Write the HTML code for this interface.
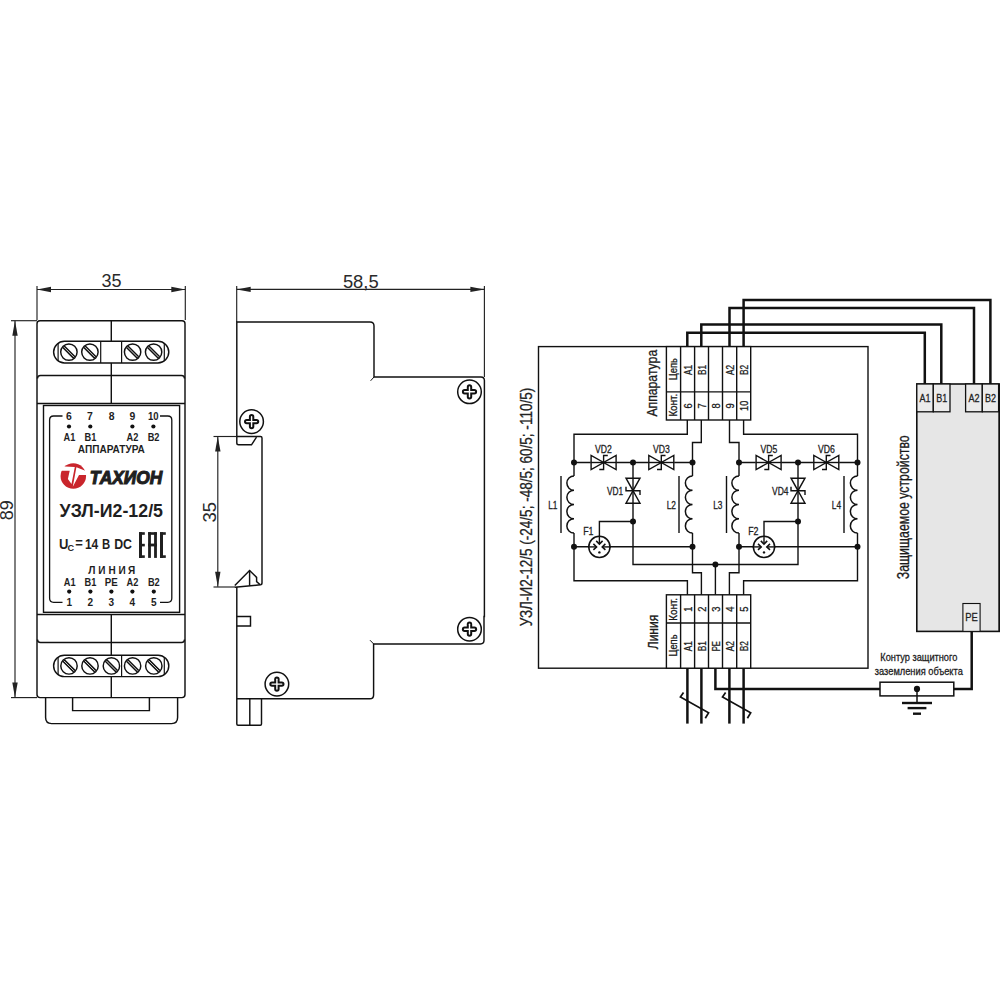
<!DOCTYPE html>
<html><head><meta charset="utf-8"><style>
html,body{margin:0;padding:0;background:#fff;}
svg{display:block;font-family:"Liberation Sans",sans-serif;}
</style></head><body>
<svg width="1000" height="1000" viewBox="0 0 1000 1000">
<rect width="1000" height="1000" fill="#fff"/>
<line x1="37" y1="286" x2="37" y2="320" stroke="#222" stroke-width="1.15" />
<line x1="185.3" y1="286" x2="185.3" y2="320" stroke="#222" stroke-width="1.15" />
<line x1="37" y1="289.5" x2="185.3" y2="289.5" stroke="#222" stroke-width="1.15" />
<polygon points="37,289.5 51.0,286.8 51.0,292.2" fill="#222"/>
<polygon points="185.3,289.5 171.3,292.2 171.3,286.8" fill="#222"/>
<text x="111.5" y="287.3" font-size="18" text-anchor="middle" font-weight="normal" font-style="normal" fill="#2a2a2a" >35</text>
<line x1="11" y1="320.7" x2="37" y2="320.7" stroke="#222" stroke-width="1.15" />
<line x1="11" y1="697.6" x2="37" y2="697.6" stroke="#222" stroke-width="1.15" />
<line x1="15" y1="320.7" x2="15" y2="697.6" stroke="#222" stroke-width="1.15" />
<polygon points="15,320.7 17.7,335.7 12.3,335.7" fill="#222"/>
<polygon points="15,697.6 12.3,682.6 17.7,682.6" fill="#222"/>
<text x="13" y="510.2" font-size="18" text-anchor="middle" font-weight="normal" font-style="normal" fill="#2a2a2a" transform="rotate(-90 13 510.2)" >89</text>
<path d="M37,323.7 Q37,320.7 40,320.7 L182,320.7 Q185,320.7 185,323.7 L185,694.6 Q185,697.6 182,697.6 L40,697.6 Q37,697.6 37,694.6 Z" stroke="#111" stroke-width="1.45" fill="none" />
<path d="M37.5,378.5 Q37.5,375.5 40.5,375.5 L181.5,375.5 Q184.5,375.5 184.5,378.5" stroke="#111" stroke-width="1.45" fill="none" />
<line x1="37" y1="403.5" x2="185" y2="403.5" stroke="#111" stroke-width="1.45" />
<line x1="37" y1="614.4" x2="185" y2="614.4" stroke="#111" stroke-width="1.45" />
<path d="M37.5,639.4 Q37.5,642.4 40.5,642.4 L181.5,642.4 Q184.5,642.4 184.5,639.4" stroke="#111" stroke-width="1.45" fill="none" />
<rect x="43.5" y="405.5" width="136.1" height="206.8" fill="none" stroke="#111" stroke-width="1.4"/>
<line x1="111.3" y1="320.7" x2="111.3" y2="341.3" stroke="#111" stroke-width="1.45" />
<line x1="111.3" y1="362.9" x2="111.3" y2="403.5" stroke="#111" stroke-width="1.45" />
<line x1="111.3" y1="614.4" x2="111.3" y2="655.2" stroke="#111" stroke-width="1.45" />
<line x1="111.3" y1="676.6" x2="111.3" y2="697.6" stroke="#111" stroke-width="1.45" />
<path d="M64.4,341.3 L158.0,341.3 A10.8,10.8 0 0 1 158.0,362.90000000000003 L64.4,362.90000000000003 A10.8,10.8 0 0 1 64.4,341.3 Z" stroke="#111" stroke-width="1.45" fill="none" />
<circle cx="68.9" cy="352.1" r="8.2" stroke="#111" stroke-width="1.45" fill="none"/>
<line x1="63.52680000000001" y1="346.7268" x2="74.2732" y2="357.4732" stroke="#111" stroke-width="3.5" />
<line x1="63.95100000000001" y1="347.151" x2="73.849" y2="357.04900000000004" stroke="#fff" stroke-width="0.85" />
<circle cx="89.9" cy="352.1" r="8.2" stroke="#111" stroke-width="1.45" fill="none"/>
<line x1="84.52680000000001" y1="346.7268" x2="95.2732" y2="357.4732" stroke="#111" stroke-width="3.5" />
<line x1="84.95100000000001" y1="347.151" x2="94.849" y2="357.04900000000004" stroke="#fff" stroke-width="0.85" />
<circle cx="132.6" cy="352.1" r="8.2" stroke="#111" stroke-width="1.45" fill="none"/>
<line x1="127.2268" y1="346.7268" x2="137.9732" y2="357.4732" stroke="#111" stroke-width="3.5" />
<line x1="127.651" y1="347.151" x2="137.549" y2="357.04900000000004" stroke="#fff" stroke-width="0.85" />
<circle cx="153.6" cy="352.1" r="8.2" stroke="#111" stroke-width="1.45" fill="none"/>
<line x1="148.2268" y1="346.7268" x2="158.9732" y2="357.4732" stroke="#111" stroke-width="3.5" />
<line x1="148.65099999999998" y1="347.151" x2="158.549" y2="357.04900000000004" stroke="#fff" stroke-width="0.85" />
<line x1="58.1" y1="343.32788508967195" x2="58.1" y2="360.8721149103281" stroke="#111" stroke-width="1.2" />
<line x1="100.7" y1="341.3" x2="100.7" y2="362.90000000000003" stroke="#111" stroke-width="1.2" />
<line x1="121.6" y1="341.3" x2="121.6" y2="362.90000000000003" stroke="#111" stroke-width="1.2" />
<line x1="164.3" y1="343.32788508967195" x2="164.3" y2="360.8721149103281" stroke="#111" stroke-width="1.2" />
<path d="M64.3,655.2 L158.10000000000002,655.2 A10.7,10.7 0 0 1 158.10000000000002,676.6 L64.3,676.6 A10.7,10.7 0 0 1 64.3,655.2 Z" stroke="#111" stroke-width="1.45" fill="none" />
<circle cx="69.0" cy="665.9000000000001" r="8.2" stroke="#111" stroke-width="1.45" fill="none"/>
<line x1="63.6268" y1="660.5268000000001" x2="74.3732" y2="671.2732000000001" stroke="#111" stroke-width="3.5" />
<line x1="64.051" y1="660.9510000000001" x2="73.949" y2="670.849" stroke="#fff" stroke-width="0.85" />
<circle cx="90.0" cy="665.9000000000001" r="8.2" stroke="#111" stroke-width="1.45" fill="none"/>
<line x1="84.6268" y1="660.5268000000001" x2="95.3732" y2="671.2732000000001" stroke="#111" stroke-width="3.5" />
<line x1="85.051" y1="660.9510000000001" x2="94.949" y2="670.849" stroke="#fff" stroke-width="0.85" />
<circle cx="111.4" cy="665.9000000000001" r="8.2" stroke="#111" stroke-width="1.45" fill="none"/>
<line x1="106.02680000000001" y1="660.5268000000001" x2="116.7732" y2="671.2732000000001" stroke="#111" stroke-width="3.5" />
<line x1="106.45100000000001" y1="660.9510000000001" x2="116.349" y2="670.849" stroke="#fff" stroke-width="0.85" />
<circle cx="132.6" cy="665.9000000000001" r="8.2" stroke="#111" stroke-width="1.45" fill="none"/>
<line x1="127.2268" y1="660.5268000000001" x2="137.9732" y2="671.2732000000001" stroke="#111" stroke-width="3.5" />
<line x1="127.651" y1="660.9510000000001" x2="137.549" y2="670.849" stroke="#fff" stroke-width="0.85" />
<circle cx="153.8" cy="665.9000000000001" r="8.2" stroke="#111" stroke-width="1.45" fill="none"/>
<line x1="148.42680000000001" y1="660.5268000000001" x2="159.1732" y2="671.2732000000001" stroke="#111" stroke-width="3.5" />
<line x1="148.851" y1="660.9510000000001" x2="158.74900000000002" y2="670.849" stroke="#fff" stroke-width="0.85" />
<line x1="58.1" y1="657.1793348877509" x2="58.1" y2="674.6206651122493" stroke="#111" stroke-width="1.2" />
<line x1="121.6" y1="655.2" x2="121.6" y2="676.6" stroke="#111" stroke-width="1.2" />
<line x1="164.3" y1="657.1793348877509" x2="164.3" y2="674.6206651122493" stroke="#111" stroke-width="1.2" />
<path d="M45.6,697.6 L45.6,717.6 Q45.6,723.6 51.6,723.6 L171.6,723.6 Q177.6,723.6 177.6,717.6 L177.6,697.6" stroke="#111" stroke-width="1.45" fill="none" />
<path d="M72.6,697.6 L72.6,710.6 L149.4,710.6 L149.4,697.6" stroke="#111" stroke-width="1.45" fill="none" />
<path d="M62.5,416 L53.6,416 Q49.6,416 49.6,420 L49.6,598.3 Q49.6,602.3 53.6,602.3 L62.5,602.3" stroke="#111" stroke-width="1.3" fill="none" />
<path d="M160,416 L167.8,416 Q171.8,416 171.8,420 L171.8,598.3 Q171.8,602.3 167.8,602.3 L160,602.3" stroke="#111" stroke-width="1.3" fill="none" />
<text x="68.9" y="420.3" font-size="11.4" text-anchor="middle" font-weight="bold" font-style="normal" fill="#1e1e1e" textLength="5.8" lengthAdjust="spacingAndGlyphs" >6</text>
<text x="90" y="420.3" font-size="11.4" text-anchor="middle" font-weight="bold" font-style="normal" fill="#1e1e1e" textLength="5.8" lengthAdjust="spacingAndGlyphs" >7</text>
<text x="111.6" y="420.3" font-size="11.4" text-anchor="middle" font-weight="bold" font-style="normal" fill="#1e1e1e" textLength="5.8" lengthAdjust="spacingAndGlyphs" >8</text>
<text x="132.4" y="420.3" font-size="11.4" text-anchor="middle" font-weight="bold" font-style="normal" fill="#1e1e1e" textLength="5.8" lengthAdjust="spacingAndGlyphs" >9</text>
<text x="153.2" y="420.3" font-size="11.4" text-anchor="middle" font-weight="bold" font-style="normal" fill="#1e1e1e" textLength="10.6" lengthAdjust="spacingAndGlyphs" >10</text>
<circle cx="69" cy="426.5" r="2.1" fill="#111"/>
<circle cx="90.3" cy="426.5" r="2.1" fill="#111"/>
<circle cx="132.4" cy="426.5" r="2.1" fill="#111"/>
<circle cx="153.4" cy="426.5" r="2.1" fill="#111"/>
<text x="69.5" y="441" font-size="11.6" text-anchor="middle" font-weight="bold" font-style="normal" fill="#1e1e1e" textLength="11.8" lengthAdjust="spacingAndGlyphs" >A1</text>
<text x="90.5" y="441" font-size="11.6" text-anchor="middle" font-weight="bold" font-style="normal" fill="#1e1e1e" textLength="11.8" lengthAdjust="spacingAndGlyphs" >B1</text>
<text x="132.4" y="441" font-size="11.6" text-anchor="middle" font-weight="bold" font-style="normal" fill="#1e1e1e" textLength="11.8" lengthAdjust="spacingAndGlyphs" >A2</text>
<text x="153.6" y="441" font-size="11.6" text-anchor="middle" font-weight="bold" font-style="normal" fill="#1e1e1e" textLength="11.8" lengthAdjust="spacingAndGlyphs" >B2</text>
<text x="111.3" y="452.8" font-size="10" text-anchor="middle" font-weight="bold" font-style="normal" fill="#1e1e1e" textLength="67" lengthAdjust="spacingAndGlyphs" >АППАРАТУРА</text>
<circle cx="73.3" cy="476" r="12.75" fill="#c9252c"/>
<polygon points="61,466.55 64.9,466.55 74.8,467 71.5,484.1 67.9,479 69.7,470.75 59.8,470.75" fill="#fff"/>
<polygon points="76.4,467.3 84.7,470.6 87.5,470.6 87.5,475.1 79,475.1 72.8,486.8" fill="#fff"/>
<text x="89.8" y="483.7" font-size="18.2" text-anchor="start" font-weight="bold" font-style="italic" fill="#1f1f1f" textLength="72.5" lengthAdjust="spacingAndGlyphs" stroke="#1f1f1f" stroke-width="1.1">ТАХИОН</text>
<text x="111.3" y="516.8" font-size="18.6" text-anchor="middle" font-weight="bold" font-style="normal" fill="#1f1f1f" textLength="103.4" lengthAdjust="spacingAndGlyphs" >УЗЛ-И2-12/5</text>
<text x="58.9" y="548.5" font-size="14.2" text-anchor="start" font-weight="bold" font-style="normal" fill="#1f1f1f" textLength="9.4" lengthAdjust="spacingAndGlyphs" >U</text>
<text x="67.4" y="550.8" font-size="8.8" text-anchor="start" font-weight="bold" font-style="normal" fill="#1f1f1f" textLength="6.6" lengthAdjust="spacingAndGlyphs" >C</text>
<text x="75.2" y="547.6" font-size="14.2" text-anchor="start" font-weight="bold" font-style="normal" fill="#1f1f1f" textLength="7.6" lengthAdjust="spacingAndGlyphs" >=</text>
<text x="84.9" y="548.5" font-size="14.2" text-anchor="start" font-weight="bold" font-style="normal" fill="#1f1f1f" textLength="13.4" lengthAdjust="spacingAndGlyphs" >14</text>
<text x="101.9" y="548.5" font-size="14.2" text-anchor="start" font-weight="bold" font-style="normal" fill="#1f1f1f" textLength="8.2" lengthAdjust="spacingAndGlyphs" >B</text>
<text x="114.2" y="548.5" font-size="14.2" text-anchor="start" font-weight="bold" font-style="normal" fill="#1f1f1f" textLength="17.8" lengthAdjust="spacingAndGlyphs" >DC</text>
<rect x="139" y="532.2" width="3" height="25.7" fill="#1f1f1f"/>
<rect x="139" y="532.2" width="5.8" height="2.6" fill="#1f1f1f"/>
<rect x="139" y="543.8" width="5.8" height="2.6" fill="#1f1f1f"/>
<rect x="139" y="555.3" width="5.8" height="2.6" fill="#1f1f1f"/>
<rect x="148.1" y="532.2" width="2.8" height="25.7" fill="#1f1f1f"/>
<rect x="154.1" y="532.2" width="2.8" height="25.7" fill="#1f1f1f"/>
<rect x="148.1" y="532.2" width="8.8" height="2.6" fill="#1f1f1f"/>
<rect x="148.1" y="543.6" width="8.8" height="2.8" fill="#1f1f1f"/>
<rect x="160" y="532.2" width="3" height="25.7" fill="#1f1f1f"/>
<rect x="160" y="532.2" width="5.8" height="2.6" fill="#1f1f1f"/>
<rect x="160" y="555.3" width="5.8" height="2.6" fill="#1f1f1f"/>
<text x="91.8" y="573.7" font-size="11.7" text-anchor="middle" font-weight="bold" font-style="normal" fill="#1e1e1e" textLength="7.2" lengthAdjust="spacingAndGlyphs" >Л</text>
<text x="101.8" y="573.7" font-size="11.7" text-anchor="middle" font-weight="bold" font-style="normal" fill="#1e1e1e" textLength="7.2" lengthAdjust="spacingAndGlyphs" >И</text>
<text x="112.2" y="573.7" font-size="11.7" text-anchor="middle" font-weight="bold" font-style="normal" fill="#1e1e1e" textLength="7.2" lengthAdjust="spacingAndGlyphs" >Н</text>
<text x="122" y="573.7" font-size="11.7" text-anchor="middle" font-weight="bold" font-style="normal" fill="#1e1e1e" textLength="7.2" lengthAdjust="spacingAndGlyphs" >И</text>
<text x="131.5" y="573.7" font-size="11.7" text-anchor="middle" font-weight="bold" font-style="normal" fill="#1e1e1e" textLength="7.2" lengthAdjust="spacingAndGlyphs" >Я</text>
<text x="69.7" y="586" font-size="10" text-anchor="middle" font-weight="bold" font-style="normal" fill="#1e1e1e" textLength="11.8" lengthAdjust="spacingAndGlyphs" >A1</text>
<text x="90.5" y="586" font-size="10" text-anchor="middle" font-weight="bold" font-style="normal" fill="#1e1e1e" textLength="11.8" lengthAdjust="spacingAndGlyphs" >B1</text>
<text x="111.3" y="586" font-size="10" text-anchor="middle" font-weight="bold" font-style="normal" fill="#1e1e1e" textLength="13" lengthAdjust="spacingAndGlyphs" >PE</text>
<text x="132.4" y="586" font-size="10" text-anchor="middle" font-weight="bold" font-style="normal" fill="#1e1e1e" textLength="11.8" lengthAdjust="spacingAndGlyphs" >A2</text>
<text x="153.8" y="586" font-size="10" text-anchor="middle" font-weight="bold" font-style="normal" fill="#1e1e1e" textLength="11.8" lengthAdjust="spacingAndGlyphs" >B2</text>
<circle cx="69.2" cy="591.6" r="2.1" fill="#111"/>
<circle cx="90.4" cy="591.6" r="2.1" fill="#111"/>
<circle cx="111.4" cy="591.6" r="2.1" fill="#111"/>
<circle cx="132.4" cy="591.6" r="2.1" fill="#111"/>
<circle cx="153.8" cy="591.6" r="2.1" fill="#111"/>
<text x="69.2" y="606.3" font-size="10.3" text-anchor="middle" font-weight="bold" font-style="normal" fill="#1e1e1e" textLength="5.6" lengthAdjust="spacingAndGlyphs" >1</text>
<text x="90.4" y="606.3" font-size="10.3" text-anchor="middle" font-weight="bold" font-style="normal" fill="#1e1e1e" textLength="5.6" lengthAdjust="spacingAndGlyphs" >2</text>
<text x="111.4" y="606.3" font-size="10.3" text-anchor="middle" font-weight="bold" font-style="normal" fill="#1e1e1e" textLength="5.6" lengthAdjust="spacingAndGlyphs" >3</text>
<text x="132.4" y="606.3" font-size="10.3" text-anchor="middle" font-weight="bold" font-style="normal" fill="#1e1e1e" textLength="5.6" lengthAdjust="spacingAndGlyphs" >4</text>
<text x="153.8" y="606.3" font-size="10.3" text-anchor="middle" font-weight="bold" font-style="normal" fill="#1e1e1e" textLength="5.6" lengthAdjust="spacingAndGlyphs" >5</text>
<line x1="236.7" y1="286" x2="236.7" y2="322" stroke="#222" stroke-width="1.15" />
<line x1="484.4" y1="286" x2="484.4" y2="377" stroke="#222" stroke-width="1.15" />
<line x1="236.7" y1="289.4" x2="484.4" y2="289.4" stroke="#222" stroke-width="1.15" />
<polygon points="236.7,289.4 250.7,286.7 250.7,292.09999999999997" fill="#222"/>
<polygon points="484.4,289.4 470.4,292.09999999999997 470.4,286.7" fill="#222"/>
<text x="360.8" y="287.6" font-size="18.4" text-anchor="middle" font-weight="normal" font-style="normal" fill="#2a2a2a" >58,5</text>
<path d="M236.8,436.5 L236.8,322 L370,322 Q374,322 374,326 L374,377 L480.9,377 Q484.4,377 484.4,380.5 L484.4,616.4 L484,616.4 L484,640.3 Q484,643.9 480.4,643.9 L373.6,643.9 L373.6,695 Q373.6,698.8 369.8,698.8 L236.8,698.8 L236.8,587" stroke="#111" stroke-width="1.45" fill="none" />
<path d="M374,377 L370.6,380.8" stroke="#111" stroke-width="1.0" fill="none" />
<path d="M373.6,643.9 L370,640.2" stroke="#111" stroke-width="1.0" fill="none" />
<line x1="213.5" y1="436.5" x2="236.8" y2="436.5" stroke="#222" stroke-width="1.15" />
<path d="M236.8,436.5 L260.5,436.5 Q262,436.5 262,438 L262,583 Q262,584.8 260.2,584.8" stroke="#111" stroke-width="1.45" fill="none" />
<path d="M236.8,436.5 L236.8,443 Q236.8,444.8 238.6,444.8 L251.5,444.8 L256.5,437.2" stroke="#111" stroke-width="1.45" fill="none" />
<path d="M234.8,585.4 L249.6,570.6 L256.6,577.4 L256.6,581.6 L260.2,584.8" stroke="#111" stroke-width="1.45" fill="none" />
<line x1="249.6" y1="570.6" x2="249.6" y2="585.8" stroke="#111" stroke-width="1.45" />
<line x1="234.8" y1="587.2" x2="260.4" y2="584.8" stroke="#111" stroke-width="1.45" />
<line x1="213.5" y1="587" x2="235" y2="587" stroke="#222" stroke-width="1.15" />
<path d="M236.8,616.5 L250.5,616.5 L250.5,626 L236.8,626" stroke="#111" stroke-width="1.45" fill="none" />
<path d="M236.8,698.8 L236.8,724 Q236.8,725.2 238,725.2 L260.3,725.2 Q261.5,725.2 261.5,724 L261.5,698.8" stroke="#111" stroke-width="1.45" fill="none" />
<line x1="249.8" y1="698.8" x2="249.8" y2="725.2" stroke="#111" stroke-width="1.45" />
<line x1="217.8" y1="436.5" x2="217.8" y2="586.8" stroke="#222" stroke-width="1.15" />
<polygon points="217.8,436.5 220.5,451.5 215.10000000000002,451.5" fill="#222"/>
<polygon points="217.8,586.8 215.10000000000002,571.8 220.5,571.8" fill="#222"/>
<text x="216.4" y="512.2" font-size="18.6" text-anchor="middle" font-weight="normal" font-style="normal" fill="#2a2a2a" transform="rotate(-90 216.4 512.2)" >35</text>
<circle cx="469.5" cy="391.8" r="11.8" stroke="#111" stroke-width="1.5" fill="none"/>
<line x1="464.6" y1="391.8" x2="474.4" y2="391.8" stroke="#111" stroke-width="5.4" stroke-linecap="round"/>
<line x1="469.5" y1="386.90000000000003" x2="469.5" y2="396.7" stroke="#111" stroke-width="5.4" stroke-linecap="round"/>
<line x1="464.6" y1="391.8" x2="474.4" y2="391.8" stroke="#fff" stroke-width="1.4" stroke-linecap="round"/>
<line x1="469.5" y1="386.90000000000003" x2="469.5" y2="396.7" stroke="#fff" stroke-width="1.4" stroke-linecap="round"/>
<circle cx="251.6" cy="421.6" r="11.8" stroke="#111" stroke-width="1.5" fill="none"/>
<line x1="246.7" y1="421.6" x2="256.5" y2="421.6" stroke="#111" stroke-width="5.4" stroke-linecap="round"/>
<line x1="251.6" y1="416.70000000000005" x2="251.6" y2="426.5" stroke="#111" stroke-width="5.4" stroke-linecap="round"/>
<line x1="246.7" y1="421.6" x2="256.5" y2="421.6" stroke="#fff" stroke-width="1.4" stroke-linecap="round"/>
<line x1="251.6" y1="416.70000000000005" x2="251.6" y2="426.5" stroke="#fff" stroke-width="1.4" stroke-linecap="round"/>
<circle cx="469.5" cy="629.2" r="11.8" stroke="#111" stroke-width="1.5" fill="none"/>
<line x1="464.6" y1="629.2" x2="474.4" y2="629.2" stroke="#111" stroke-width="5.4" stroke-linecap="round"/>
<line x1="469.5" y1="624.3000000000001" x2="469.5" y2="634.1" stroke="#111" stroke-width="5.4" stroke-linecap="round"/>
<line x1="464.6" y1="629.2" x2="474.4" y2="629.2" stroke="#fff" stroke-width="1.4" stroke-linecap="round"/>
<line x1="469.5" y1="624.3000000000001" x2="469.5" y2="634.1" stroke="#fff" stroke-width="1.4" stroke-linecap="round"/>
<circle cx="276.9" cy="684.1" r="11.8" stroke="#111" stroke-width="1.5" fill="none"/>
<line x1="272.0" y1="684.1" x2="281.79999999999995" y2="684.1" stroke="#111" stroke-width="5.4" stroke-linecap="round"/>
<line x1="276.9" y1="679.2" x2="276.9" y2="689.0" stroke="#111" stroke-width="5.4" stroke-linecap="round"/>
<line x1="272.0" y1="684.1" x2="281.79999999999995" y2="684.1" stroke="#fff" stroke-width="1.4" stroke-linecap="round"/>
<line x1="276.9" y1="679.2" x2="276.9" y2="689.0" stroke="#fff" stroke-width="1.4" stroke-linecap="round"/>
<rect x="538.5" y="346.6" width="329.5" height="321.6" fill="none" stroke="#111" stroke-width="1.4"/>
<text x="531.6" y="507" font-size="17" text-anchor="middle" font-weight="normal" font-style="normal" fill="#222" textLength="238.5" lengthAdjust="spacingAndGlyphs" transform="rotate(-90 531.6 507)"  stroke="#222" stroke-width="0.3">УЗЛ-И2-12/5 (-24/5; -48/5; 60/5; -110/5)</text>
<rect x="666.4" y="346.6" width="84.3" height="73.39999999999998" fill="#fff" stroke="#111" stroke-width="1.4"/>
<line x1="680.6" y1="346.6" x2="680.6" y2="420" stroke="#111" stroke-width="1.4" />
<line x1="694.6" y1="346.6" x2="694.6" y2="420" stroke="#111" stroke-width="1.4" />
<line x1="708.5" y1="346.6" x2="708.5" y2="420" stroke="#111" stroke-width="1.4" />
<line x1="722.5" y1="346.6" x2="722.5" y2="420" stroke="#111" stroke-width="1.4" />
<line x1="736.7" y1="346.6" x2="736.7" y2="420" stroke="#111" stroke-width="1.4" />
<line x1="666.4" y1="391.9" x2="750.7" y2="391.9" stroke="#111" stroke-width="1.4" />
<rect x="666.4" y="594.8" width="84.3" height="73.40000000000009" fill="#fff" stroke="#111" stroke-width="1.4"/>
<line x1="680.6" y1="594.8" x2="680.6" y2="668.2" stroke="#111" stroke-width="1.4" />
<line x1="694.6" y1="594.8" x2="694.6" y2="668.2" stroke="#111" stroke-width="1.4" />
<line x1="708.5" y1="594.8" x2="708.5" y2="668.2" stroke="#111" stroke-width="1.4" />
<line x1="722.5" y1="594.8" x2="722.5" y2="668.2" stroke="#111" stroke-width="1.4" />
<line x1="736.7" y1="594.8" x2="736.7" y2="668.2" stroke="#111" stroke-width="1.4" />
<line x1="666.4" y1="623" x2="750.7" y2="623" stroke="#111" stroke-width="1.4" />
<text x="677.1" y="369.2" font-size="10" text-anchor="middle" font-weight="normal" font-style="normal" fill="#1a1a1a" textLength="22" lengthAdjust="spacingAndGlyphs" transform="rotate(-90 677.1 369.2)"  stroke="#1a1a1a" stroke-width="0.3">Цепь</text>
<text x="691.9" y="370" font-size="11.5" text-anchor="middle" font-weight="normal" font-style="normal" fill="#1a1a1a" textLength="10.2" lengthAdjust="spacingAndGlyphs" transform="rotate(-90 691.9 370)"  stroke="#1a1a1a" stroke-width="0.3">A1</text>
<text x="705.8499999999999" y="370" font-size="11.5" text-anchor="middle" font-weight="normal" font-style="normal" fill="#1a1a1a" textLength="10.2" lengthAdjust="spacingAndGlyphs" transform="rotate(-90 705.8499999999999 370)"  stroke="#1a1a1a" stroke-width="0.3">B1</text>
<text x="733.9" y="370" font-size="11.5" text-anchor="middle" font-weight="normal" font-style="normal" fill="#1a1a1a" textLength="10.2" lengthAdjust="spacingAndGlyphs" transform="rotate(-90 733.9 370)"  stroke="#1a1a1a" stroke-width="0.3">A2</text>
<text x="748.0" y="370" font-size="11.5" text-anchor="middle" font-weight="normal" font-style="normal" fill="#1a1a1a" textLength="10.2" lengthAdjust="spacingAndGlyphs" transform="rotate(-90 748.0 370)"  stroke="#1a1a1a" stroke-width="0.3">B2</text>
<text x="677.1" y="405.2" font-size="10" text-anchor="middle" font-weight="normal" font-style="normal" fill="#1a1a1a" textLength="22.8" lengthAdjust="spacingAndGlyphs" transform="rotate(-90 677.1 405.2)"  stroke="#1a1a1a" stroke-width="0.3">Конт.</text>
<text x="691.9" y="405.8" font-size="11.6" text-anchor="middle" font-weight="normal" font-style="normal" fill="#1a1a1a" textLength="5.2" lengthAdjust="spacingAndGlyphs" transform="rotate(-90 691.9 405.8)"  stroke="#1a1a1a" stroke-width="0.3">6</text>
<text x="705.8499999999999" y="405.8" font-size="11.6" text-anchor="middle" font-weight="normal" font-style="normal" fill="#1a1a1a" textLength="5.2" lengthAdjust="spacingAndGlyphs" transform="rotate(-90 705.8499999999999 405.8)"  stroke="#1a1a1a" stroke-width="0.3">7</text>
<text x="719.8" y="405.8" font-size="11.6" text-anchor="middle" font-weight="normal" font-style="normal" fill="#1a1a1a" textLength="5.2" lengthAdjust="spacingAndGlyphs" transform="rotate(-90 719.8 405.8)"  stroke="#1a1a1a" stroke-width="0.3">8</text>
<text x="733.9" y="405.8" font-size="11.6" text-anchor="middle" font-weight="normal" font-style="normal" fill="#1a1a1a" textLength="5.2" lengthAdjust="spacingAndGlyphs" transform="rotate(-90 733.9 405.8)"  stroke="#1a1a1a" stroke-width="0.3">9</text>
<text x="748.0" y="405.8" font-size="11.6" text-anchor="middle" font-weight="normal" font-style="normal" fill="#1a1a1a" textLength="10.2" lengthAdjust="spacingAndGlyphs" transform="rotate(-90 748.0 405.8)"  stroke="#1a1a1a" stroke-width="0.3">10</text>
<text x="657.5" y="383.2" font-size="14" text-anchor="middle" font-weight="normal" font-style="normal" fill="#1a1a1a" textLength="66.8" lengthAdjust="spacingAndGlyphs" transform="rotate(-90 657.5 383.2)"  stroke="#1a1a1a" stroke-width="0.3">Аппаратура</text>
<text x="677.1" y="609.3" font-size="10" text-anchor="middle" font-weight="normal" font-style="normal" fill="#1a1a1a" textLength="22.8" lengthAdjust="spacingAndGlyphs" transform="rotate(-90 677.1 609.3)"  stroke="#1a1a1a" stroke-width="0.3">Конт.</text>
<text x="691.9" y="609.2" font-size="11.6" text-anchor="middle" font-weight="normal" font-style="normal" fill="#1a1a1a" textLength="5.2" lengthAdjust="spacingAndGlyphs" transform="rotate(-90 691.9 609.2)"  stroke="#1a1a1a" stroke-width="0.3">1</text>
<text x="705.8499999999999" y="609.2" font-size="11.6" text-anchor="middle" font-weight="normal" font-style="normal" fill="#1a1a1a" textLength="5.2" lengthAdjust="spacingAndGlyphs" transform="rotate(-90 705.8499999999999 609.2)"  stroke="#1a1a1a" stroke-width="0.3">2</text>
<text x="719.8" y="609.2" font-size="11.6" text-anchor="middle" font-weight="normal" font-style="normal" fill="#1a1a1a" textLength="5.2" lengthAdjust="spacingAndGlyphs" transform="rotate(-90 719.8 609.2)"  stroke="#1a1a1a" stroke-width="0.3">3</text>
<text x="733.9" y="609.2" font-size="11.6" text-anchor="middle" font-weight="normal" font-style="normal" fill="#1a1a1a" textLength="5.2" lengthAdjust="spacingAndGlyphs" transform="rotate(-90 733.9 609.2)"  stroke="#1a1a1a" stroke-width="0.3">4</text>
<text x="748.0" y="609.2" font-size="11.6" text-anchor="middle" font-weight="normal" font-style="normal" fill="#1a1a1a" textLength="5.2" lengthAdjust="spacingAndGlyphs" transform="rotate(-90 748.0 609.2)"  stroke="#1a1a1a" stroke-width="0.3">5</text>
<text x="677.1" y="645.5" font-size="10" text-anchor="middle" font-weight="normal" font-style="normal" fill="#1a1a1a" textLength="22" lengthAdjust="spacingAndGlyphs" transform="rotate(-90 677.1 645.5)"  stroke="#1a1a1a" stroke-width="0.3">Цепь</text>
<text x="691.9" y="646.2" font-size="11.5" text-anchor="middle" font-weight="normal" font-style="normal" fill="#1a1a1a" textLength="10.2" lengthAdjust="spacingAndGlyphs" transform="rotate(-90 691.9 646.2)"  stroke="#1a1a1a" stroke-width="0.3">A1</text>
<text x="705.8499999999999" y="646.2" font-size="11.5" text-anchor="middle" font-weight="normal" font-style="normal" fill="#1a1a1a" textLength="10.2" lengthAdjust="spacingAndGlyphs" transform="rotate(-90 705.8499999999999 646.2)"  stroke="#1a1a1a" stroke-width="0.3">B1</text>
<text x="719.8" y="646.2" font-size="11.5" text-anchor="middle" font-weight="normal" font-style="normal" fill="#1a1a1a" textLength="10.2" lengthAdjust="spacingAndGlyphs" transform="rotate(-90 719.8 646.2)"  stroke="#1a1a1a" stroke-width="0.3">PE</text>
<text x="733.9" y="646.2" font-size="11.5" text-anchor="middle" font-weight="normal" font-style="normal" fill="#1a1a1a" textLength="10.2" lengthAdjust="spacingAndGlyphs" transform="rotate(-90 733.9 646.2)"  stroke="#1a1a1a" stroke-width="0.3">A2</text>
<text x="748.0" y="646.2" font-size="11.5" text-anchor="middle" font-weight="normal" font-style="normal" fill="#1a1a1a" textLength="10.2" lengthAdjust="spacingAndGlyphs" transform="rotate(-90 748.0 646.2)"  stroke="#1a1a1a" stroke-width="0.3">B2</text>
<text x="658" y="632" font-size="14" text-anchor="middle" font-weight="normal" font-style="normal" fill="#1a1a1a" textLength="34.5" lengthAdjust="spacingAndGlyphs" transform="rotate(-90 658 632)"  stroke="#1a1a1a" stroke-width="0.3">Линия</text>
<path d="M687.3,346.6 L687.3,332.8 L924.8,332.8 L924.8,384" stroke="#111" stroke-width="2.5" fill="none" />
<path d="M701.3,346.6 L701.3,324.6 L941.3,324.6 L941.3,384" stroke="#111" stroke-width="2.5" fill="none" />
<path d="M729.5,346.6 L729.5,308 L974,308 L974,384" stroke="#111" stroke-width="2.5" fill="none" />
<path d="M743.6,346.6 L743.6,300 L990.4,300 L990.4,384" stroke="#111" stroke-width="2.5" fill="none" />
<rect x="916.8" y="384" width="85" height="247.4" fill="#e6e6e6" stroke="#111" stroke-width="1.6"/>
<line x1="999.2" y1="384" x2="999.2" y2="631.4" stroke="#111" stroke-width="1.8" />
<rect x="916.8" y="384" width="16.5" height="27.8" fill="#ebebeb" stroke="#111" stroke-width="1.3"/>
<text x="925.05" y="401.8" font-size="11.2" text-anchor="middle" font-weight="normal" font-style="normal" fill="#222" textLength="11" lengthAdjust="spacingAndGlyphs"  stroke="#222" stroke-width="0.3">A1</text>
<rect x="933.3" y="384" width="16.700000000000045" height="27.8" fill="#ebebeb" stroke="#111" stroke-width="1.3"/>
<text x="941.65" y="401.8" font-size="11.2" text-anchor="middle" font-weight="normal" font-style="normal" fill="#222" textLength="11" lengthAdjust="spacingAndGlyphs"  stroke="#222" stroke-width="0.3">B1</text>
<rect x="965.6" y="384" width="16.699999999999932" height="27.8" fill="#ebebeb" stroke="#111" stroke-width="1.3"/>
<text x="973.95" y="401.8" font-size="11.2" text-anchor="middle" font-weight="normal" font-style="normal" fill="#222" textLength="11" lengthAdjust="spacingAndGlyphs"  stroke="#222" stroke-width="0.3">A2</text>
<rect x="982.3" y="384" width="16.300000000000068" height="27.8" fill="#ebebeb" stroke="#111" stroke-width="1.3"/>
<text x="990.45" y="401.8" font-size="11.2" text-anchor="middle" font-weight="normal" font-style="normal" fill="#222" textLength="11" lengthAdjust="spacingAndGlyphs"  stroke="#222" stroke-width="0.3">B2</text>
<rect x="962.9" y="603.5" width="17.2" height="27.9" fill="#ebebeb" stroke="#111" stroke-width="1.1"/>
<text x="971.5" y="621.3" font-size="11.5" text-anchor="middle" font-weight="normal" font-style="normal" fill="#222" textLength="12.5" lengthAdjust="spacingAndGlyphs"  stroke="#222" stroke-width="0.3">PE</text>
<text x="908.6" y="507.3" font-size="16.5" text-anchor="middle" font-weight="normal" font-style="normal" fill="#1a1a1a" textLength="144" lengthAdjust="spacingAndGlyphs" transform="rotate(-90 908.6 507.3)"  stroke="#1a1a1a" stroke-width="0.3">Защищаемое устройство</text>
<path d="M971.7,631.4 L971.7,688.9 L953.8,688.9" stroke="#111" stroke-width="2.5" fill="none" />
<rect x="880" y="682.2" width="73.8" height="13.7" fill="#fff" stroke="#111" stroke-width="1.5"/>
<circle cx="917" cy="688.9" r="3.1" fill="#111"/>
<line x1="917" y1="688.9" x2="917" y2="703" stroke="#111" stroke-width="1.5" />
<line x1="902" y1="703" x2="932" y2="703" stroke="#111" stroke-width="2.4" />
<line x1="907.6" y1="708.1" x2="926.4" y2="708.1" stroke="#111" stroke-width="2.4" />
<line x1="913" y1="713.7" x2="921" y2="713.7" stroke="#111" stroke-width="2.4" />
<text x="918.8" y="661.2" font-size="11.5" text-anchor="middle" font-weight="normal" font-style="normal" fill="#222" textLength="77" lengthAdjust="spacingAndGlyphs"  stroke="#222" stroke-width="0.3">Контур защитного</text>
<text x="918.8" y="675.2" font-size="11.5" text-anchor="middle" font-weight="normal" font-style="normal" fill="#222" textLength="88" lengthAdjust="spacingAndGlyphs"  stroke="#222" stroke-width="0.3">заземления объекта</text>
<path d="M715.4,668.2 L715.4,688.9 L880,688.9" stroke="#111" stroke-width="2.5" fill="none" />
<line x1="687.4" y1="668.2" x2="687.4" y2="723.6" stroke="#111" stroke-width="2.5" />
<line x1="701.4" y1="668.2" x2="701.4" y2="723.6" stroke="#111" stroke-width="2.5" />
<line x1="729.4" y1="668.2" x2="729.4" y2="723.6" stroke="#111" stroke-width="2.5" />
<line x1="743.6" y1="668.2" x2="743.6" y2="723.6" stroke="#111" stroke-width="2.5" />
<path d="M683.5,692.5 L680.4,697 L708.6,712.8 L705.3,718.3" stroke="#111" stroke-width="1.7" fill="none" />
<path d="M725.6,692.5 L722.5,697 L750.7,712.8 L747.4,718.3" stroke="#111" stroke-width="1.7" fill="none" />
<path d="M687.3,420 L687.3,434.3 L574,434.3 L574,476" stroke="#111" stroke-width="1.4" fill="none" />
<path d="M701.3,420 L701.3,442.5 L692.5,442.5 L692.5,476" stroke="#111" stroke-width="1.4" fill="none" />
<path d="M729.5,420 L729.5,442.5 L739,442.5 L739,476" stroke="#111" stroke-width="1.4" fill="none" />
<path d="M743.6,420 L743.6,434.3 L857.5,434.3 L857.5,476" stroke="#111" stroke-width="1.4" fill="none" />
<line x1="574" y1="462.5" x2="692.5" y2="462.5" stroke="#111" stroke-width="1.4" />
<line x1="739" y1="462.5" x2="857.5" y2="462.5" stroke="#111" stroke-width="1.4" />
<path d="M574,476 A7.125,7.125 0 0 0 574,490.25 A7.125,7.125 0 0 0 574,504.5 A7.125,7.125 0 0 0 574,518.75 A7.125,7.125 0 0 0 574,533.0" stroke="#111" stroke-width="1.5" fill="none" />
<path d="M692.5,476 A7.125,7.125 0 0 0 692.5,490.25 A7.125,7.125 0 0 0 692.5,504.5 A7.125,7.125 0 0 0 692.5,518.75 A7.125,7.125 0 0 0 692.5,533.0" stroke="#111" stroke-width="1.5" fill="none" />
<path d="M739,476 A7.125,7.125 0 0 0 739,490.25 A7.125,7.125 0 0 0 739,504.5 A7.125,7.125 0 0 0 739,518.75 A7.125,7.125 0 0 0 739,533.0" stroke="#111" stroke-width="1.5" fill="none" />
<path d="M857.5,476 A7.125,7.125 0 0 0 857.5,490.25 A7.125,7.125 0 0 0 857.5,504.5 A7.125,7.125 0 0 0 857.5,518.75 A7.125,7.125 0 0 0 857.5,533.0" stroke="#111" stroke-width="1.5" fill="none" />
<line x1="561" y1="476" x2="561" y2="533" stroke="#111" stroke-width="1.4" />
<line x1="679" y1="476" x2="679" y2="533" stroke="#111" stroke-width="1.4" />
<line x1="726.5" y1="476" x2="726.5" y2="533" stroke="#111" stroke-width="1.4" />
<line x1="844" y1="476" x2="844" y2="533" stroke="#111" stroke-width="1.4" />
<path d="M574,533 L574,580.7 L687.4,580.7 L687.4,594.8" stroke="#111" stroke-width="1.4" fill="none" />
<path d="M692.5,533 L692.5,572.7 L701.4,572.7 L701.4,594.8" stroke="#111" stroke-width="1.4" fill="none" />
<path d="M739,533 L739,572.7 L729.4,572.7 L729.4,594.8" stroke="#111" stroke-width="1.4" fill="none" />
<path d="M857.5,533 L857.5,580.7 L743.6,580.7 L743.6,594.8" stroke="#111" stroke-width="1.4" fill="none" />
<line x1="574" y1="546.8" x2="692.5" y2="546.8" stroke="#111" stroke-width="1.4" />
<line x1="739" y1="546.8" x2="857.5" y2="546.8" stroke="#111" stroke-width="1.4" />
<path d="M633,462.5 L633,564.5 L798,564.5 L798,462.5" stroke="#111" stroke-width="1.4" fill="none" />
<line x1="715.4" y1="564.5" x2="715.4" y2="594.8" stroke="#111" stroke-width="1.4" />
<path d="M599.4,544.4 L599.4,521.5 L633,521.5" stroke="#111" stroke-width="1.4" fill="none" />
<path d="M764,544.4 L764,521.5 L798,521.5" stroke="#111" stroke-width="1.4" fill="none" />
<rect x="590.6" y="454.5" width="26" height="16" fill="#fff"/>
<line x1="590.6" y1="462.5" x2="616.6" y2="462.5" stroke="#111" stroke-width="1.4" />
<path d="M591.1,455.5 L591.1,469.5 L603.6,462.5 Z" stroke="#111" stroke-width="1.4" fill="none" />
<path d="M616.1,455.5 L616.1,469.5 L603.6,462.5 Z" stroke="#111" stroke-width="1.4" fill="none" />
<path d="M607.8000000000001,455.5 L603.6,455.5 L603.6,469.5 L599.3000000000001,469.5" stroke="#111" stroke-width="1.4" fill="none" />
<rect x="648.3" y="454.5" width="26" height="16" fill="#fff"/>
<line x1="648.3" y1="462.5" x2="674.3" y2="462.5" stroke="#111" stroke-width="1.4" />
<path d="M648.8,455.5 L648.8,469.5 L661.3,462.5 Z" stroke="#111" stroke-width="1.4" fill="none" />
<path d="M673.8,455.5 L673.8,469.5 L661.3,462.5 Z" stroke="#111" stroke-width="1.4" fill="none" />
<path d="M665.5,455.5 L661.3,455.5 L661.3,469.5 L657.0,469.5" stroke="#111" stroke-width="1.4" fill="none" />
<rect x="755.6" y="454.5" width="26" height="16" fill="#fff"/>
<line x1="755.6" y1="462.5" x2="781.6" y2="462.5" stroke="#111" stroke-width="1.4" />
<path d="M756.1,455.5 L756.1,469.5 L768.6,462.5 Z" stroke="#111" stroke-width="1.4" fill="none" />
<path d="M781.1,455.5 L781.1,469.5 L768.6,462.5 Z" stroke="#111" stroke-width="1.4" fill="none" />
<path d="M772.8000000000001,455.5 L768.6,455.5 L768.6,469.5 L764.3000000000001,469.5" stroke="#111" stroke-width="1.4" fill="none" />
<rect x="813.3" y="454.5" width="26" height="16" fill="#fff"/>
<line x1="813.3" y1="462.5" x2="839.3" y2="462.5" stroke="#111" stroke-width="1.4" />
<path d="M813.8,455.5 L813.8,469.5 L826.3,462.5 Z" stroke="#111" stroke-width="1.4" fill="none" />
<path d="M838.8,455.5 L838.8,469.5 L826.3,462.5 Z" stroke="#111" stroke-width="1.4" fill="none" />
<path d="M830.5,455.5 L826.3,455.5 L826.3,469.5 L822.0,469.5" stroke="#111" stroke-width="1.4" fill="none" />
<path d="M626,478.2 L640,478.2 L633,490.7 Z" stroke="#111" stroke-width="1.4" fill="none" />
<path d="M626,503.2 L640,503.2 L633,490.7 Z" stroke="#111" stroke-width="1.4" fill="none" />
<path d="M626,486.7 L626,490.7 L640,490.7 L640,494.9" stroke="#111" stroke-width="1.4" fill="none" />
<path d="M791,478.2 L805,478.2 L798,490.7 Z" stroke="#111" stroke-width="1.4" fill="none" />
<path d="M791,503.2 L805,503.2 L798,490.7 Z" stroke="#111" stroke-width="1.4" fill="none" />
<path d="M791,486.7 L791,490.7 L805,490.7 L805,494.9" stroke="#111" stroke-width="1.4" fill="none" />
<circle cx="599.4" cy="546.9" r="10.6" fill="#fff" stroke="#111" stroke-width="1.5"/>
<line x1="587.9" y1="546.9" x2="596.6" y2="546.9" stroke="#111" stroke-width="1.4" />
<line x1="602.1999999999999" y1="546.9" x2="610.9" y2="546.9" stroke="#111" stroke-width="1.4" />
<line x1="599.4" y1="535.9" x2="599.4" y2="544.1" stroke="#111" stroke-width="1.4" />
<path d="M593.4,543.9 L596.6,546.9 L593.4,549.9" stroke="#111" stroke-width="1.5" fill="none" />
<path d="M605.4,543.9 L602.1999999999999,546.9 L605.4,549.9" stroke="#111" stroke-width="1.5" fill="none" />
<path d="M596.1999999999999,540.9 L599.4,544.1 L602.6,540.9" stroke="#111" stroke-width="1.5" fill="none" />
<circle cx="599.4" cy="552.4" r="1.2" fill="#111"/>
<circle cx="764" cy="546.9" r="10.6" fill="#fff" stroke="#111" stroke-width="1.5"/>
<line x1="752.5" y1="546.9" x2="761.2" y2="546.9" stroke="#111" stroke-width="1.4" />
<line x1="766.8" y1="546.9" x2="775.5" y2="546.9" stroke="#111" stroke-width="1.4" />
<line x1="764" y1="535.9" x2="764" y2="544.1" stroke="#111" stroke-width="1.4" />
<path d="M758,543.9 L761.2,546.9 L758,549.9" stroke="#111" stroke-width="1.5" fill="none" />
<path d="M770,543.9 L766.8,546.9 L770,549.9" stroke="#111" stroke-width="1.5" fill="none" />
<path d="M760.8,540.9 L764,544.1 L767.2,540.9" stroke="#111" stroke-width="1.5" fill="none" />
<circle cx="764" cy="552.4" r="1.2" fill="#111"/>
<circle cx="574" cy="462.5" r="3" fill="#111"/>
<circle cx="633" cy="462.5" r="3" fill="#111"/>
<circle cx="692.5" cy="462.5" r="3" fill="#111"/>
<circle cx="739" cy="462.5" r="3" fill="#111"/>
<circle cx="798" cy="462.5" r="3" fill="#111"/>
<circle cx="857.5" cy="462.5" r="3" fill="#111"/>
<circle cx="574" cy="546.8" r="3" fill="#111"/>
<circle cx="692.5" cy="546.8" r="3" fill="#111"/>
<circle cx="739" cy="546.8" r="3" fill="#111"/>
<circle cx="857.5" cy="546.8" r="3" fill="#111"/>
<circle cx="633" cy="521.5" r="3" fill="#111"/>
<circle cx="798" cy="521.5" r="3" fill="#111"/>
<circle cx="715.4" cy="564.5" r="3" fill="#111"/>
<text x="603.4" y="452.6" font-size="11" text-anchor="middle" font-weight="normal" font-style="normal" fill="#222" textLength="16.8" lengthAdjust="spacingAndGlyphs"  stroke="#222" stroke-width="0.3">VD2</text>
<text x="661.5" y="452.6" font-size="11" text-anchor="middle" font-weight="normal" font-style="normal" fill="#222" textLength="16.8" lengthAdjust="spacingAndGlyphs"  stroke="#222" stroke-width="0.3">VD3</text>
<text x="768.8" y="452.6" font-size="11" text-anchor="middle" font-weight="normal" font-style="normal" fill="#222" textLength="16.8" lengthAdjust="spacingAndGlyphs"  stroke="#222" stroke-width="0.3">VD5</text>
<text x="826.3" y="452.6" font-size="11" text-anchor="middle" font-weight="normal" font-style="normal" fill="#222" textLength="16.8" lengthAdjust="spacingAndGlyphs"  stroke="#222" stroke-width="0.3">VD6</text>
<text x="615" y="494.5" font-size="11" text-anchor="middle" font-weight="normal" font-style="normal" fill="#222" textLength="16.2" lengthAdjust="spacingAndGlyphs"  stroke="#222" stroke-width="0.3">VD1</text>
<text x="780.3" y="494.5" font-size="11" text-anchor="middle" font-weight="normal" font-style="normal" fill="#222" textLength="16.5" lengthAdjust="spacingAndGlyphs"  stroke="#222" stroke-width="0.3">VD4</text>
<text x="552.8" y="509" font-size="11" text-anchor="middle" font-weight="normal" font-style="normal" fill="#222" textLength="9.3" lengthAdjust="spacingAndGlyphs"  stroke="#222" stroke-width="0.3">L1</text>
<text x="671.3" y="509" font-size="11" text-anchor="middle" font-weight="normal" font-style="normal" fill="#222" textLength="9.3" lengthAdjust="spacingAndGlyphs"  stroke="#222" stroke-width="0.3">L2</text>
<text x="717.8" y="509" font-size="11" text-anchor="middle" font-weight="normal" font-style="normal" fill="#222" textLength="9.3" lengthAdjust="spacingAndGlyphs"  stroke="#222" stroke-width="0.3">L3</text>
<text x="836.5" y="509" font-size="11" text-anchor="middle" font-weight="normal" font-style="normal" fill="#222" textLength="9.3" lengthAdjust="spacingAndGlyphs"  stroke="#222" stroke-width="0.3">L4</text>
<text x="588.3" y="535" font-size="11" text-anchor="middle" font-weight="normal" font-style="normal" fill="#222" textLength="10.3" lengthAdjust="spacingAndGlyphs"  stroke="#222" stroke-width="0.3">F1</text>
<text x="753.3" y="535" font-size="11" text-anchor="middle" font-weight="normal" font-style="normal" fill="#222" textLength="10.3" lengthAdjust="spacingAndGlyphs"  stroke="#222" stroke-width="0.3">F2</text>
</svg></body></html>
